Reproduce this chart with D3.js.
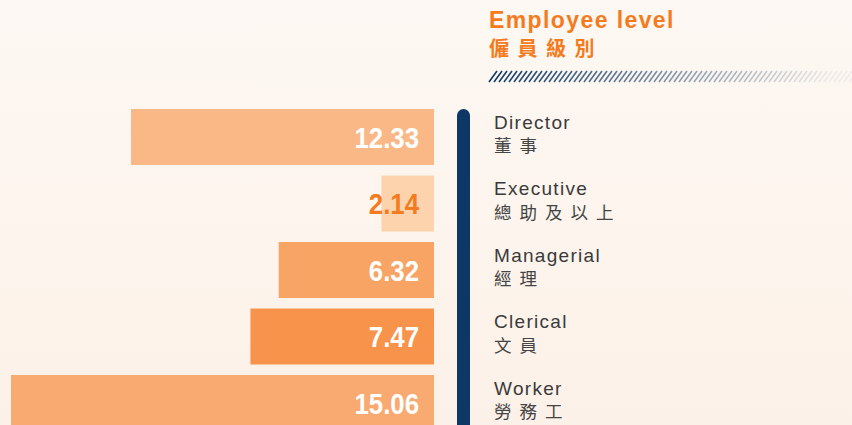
<!DOCTYPE html>
<html lang="en">
<head>
<meta charset="utf-8">
<title>Employee level</title>
<script src="https://cdnjs.cloudflare.com/ajax/libs/d3/7.8.5/d3.min.js"></script>
<style>
  html, body { margin: 0; padding: 0; }
  body { width: 852px; height: 425px; overflow: hidden; }
  svg { display: block; }
</style>
</head>
<body>
<script>
// data
var levelsEn = ["Director", "Executive", "Managerial", "Clerical", "Worker"];
var levelsZh = ["董事", "總助及以上", "經理", "文員", "勞務工"];
var values = [12.33, 2.14, 6.32, 7.47, 15.06];
var barColors = ["#f9b886", "#fdd3ae", "#f7a465", "#f7934a", "#f8aa70"];
var labelColors = ["#ffffff", "#f47b20", "#ffffff", "#ffffff", "#ffffff"];

var w = 852, h = 425;
var svg = d3.select("body").append("svg").attr("width", w).attr("height", h);
var defs = svg.append("defs");

// background
var bg = defs.append("linearGradient").attr("id", "bg").attr("x1", 0).attr("y1", 0).attr("x2", 0).attr("y2", 1);
bg.append("stop").attr("offset", "0%").attr("stop-color", "#fdf8f3");
bg.append("stop").attr("offset", "100%").attr("stop-color", "#fcf1e8");
svg.append("rect").attr("width", w).attr("height", h).attr("fill", "url(#bg)");

// scales (the original artwork is not strictly linear for the longest bar)
var barRight = 434;
var x = d3.scaleLinear().domain([0, 12.33, 15.06]).range([0, 303, 423]);
var y = d3.scaleBand().domain(levelsEn).range([109, 431]).paddingInner(10.5 / 66.5).paddingOuter(0);

// bars
var rows = svg.selectAll("g.row").data(levelsEn).enter().append("g").attr("class", "row");
rows.append("rect")
  .attr("x", function(d, i) { return barRight - x(values[i]); })
  .attr("y", function(d) { return y(d); })
  .attr("width", function(d, i) { return x(values[i]); })
  .attr("height", y.bandwidth())
  .attr("fill", function(d, i) { return barColors[i]; });

// value labels, squeezed horizontally to imitate a condensed face
rows.append("text")
  .attr("transform", function(d) {
    return "translate(" + (barRight - 15) + "," + (y(d) + y.bandwidth() / 2 + 10.5) + ") scale(0.86,1)";
  })
  .attr("text-anchor", "end")
  .attr("font-family", "'Liberation Sans', Arial, sans-serif")
  .attr("font-weight", "bold")
  .attr("font-size", 30)
  .attr("fill", function(d, i) { return labelColors[i]; })
  .text(function(d, i) { return d3.format(".2f")(values[i]); });

// vertical divider
svg.append("rect")
  .attr("x", 457).attr("y", 109)
  .attr("width", 13).attr("height", 340)
  .attr("rx", 6.5)
  .attr("fill", "#0d3865");

// category labels
rows.append("text")
  .attr("x", 494)
  .attr("y", function(d) { return y(d) + 19.5; })
  .attr("font-family", "'Liberation Sans', Arial, sans-serif")
  .attr("font-size", 19)
  .attr("letter-spacing", 1.3)
  .attr("fill", "#3a3a3a")
  .text(function(d) { return d; });

rows.append("text")
  .attr("x", 494)
  .attr("y", function(d) { return y(d) + 43; })
  .attr("font-family", "'Noto Sans CJK TC', sans-serif")
  .attr("font-size", 17.5)
  .attr("letter-spacing", 8)
  .attr("fill", "#444444")
  .text(function(d, i) { return levelsZh[i]; });

// title
svg.append("text")
  .attr("x", 489).attr("y", 28)
  .attr("font-family", "'Liberation Sans', Arial, sans-serif")
  .attr("font-weight", "bold")
  .attr("font-size", 23)
  .attr("letter-spacing", 1.4)
  .attr("fill", "#f47b20")
  .text("Employee level");

svg.append("text")
  .attr("x", 489).attr("y", 56)
  .attr("font-family", "'Noto Sans CJK TC', sans-serif")
  .attr("font-weight", "bold")
  .attr("font-size", 20)
  .attr("letter-spacing", 8.5)
  .attr("fill", "#f47b20")
  .text("僱員級別");

// hatched rule fading to the right
var hatchX = d3.range(489, 860, 5);
svg.append("g").selectAll("line").data(hatchX).enter().append("line")
  .attr("x1", function(d) { return d; }).attr("y1", 82)
  .attr("x2", function(d) { return d + 8; }).attr("y2", 71)
  .attr("stroke", "#0d3865")
  .attr("stroke-width", 1.6)
  .attr("stroke-opacity", function(d) { return Math.max(0.06, 1 - (d - 489) / 360); });
</script>
</body>
</html>
